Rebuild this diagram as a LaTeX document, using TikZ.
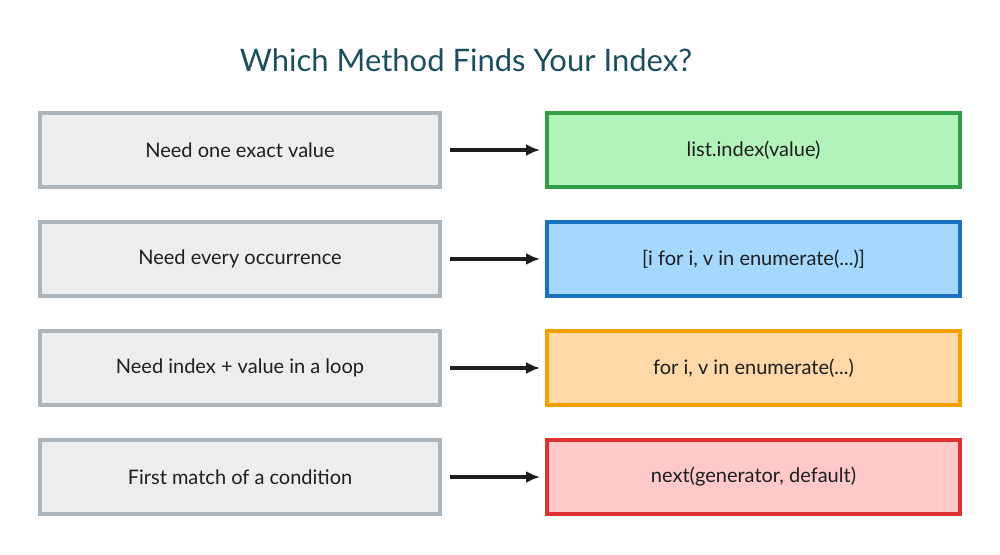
\documentclass[tikz,border=0pt]{standalone}
\usepackage{fontspec}
\setmainfont{Lato}
\usetikzlibrary{positioning}
\usetikzlibrary{arrows.meta}
\definecolor{titleink}{HTML}{1B4F5E}
\definecolor{ink}{HTML}{1E1E1E}
\definecolor{grayfill}{HTML}{ECEDEF}
\definecolor{grayline}{HTML}{ADB5BD}
\definecolor{greenfill}{HTML}{B2F2BB}
\definecolor{greenline}{HTML}{2F9E44}
\definecolor{bluefill}{HTML}{A5D8FF}
\definecolor{blueline}{HTML}{1971C2}
\definecolor{orangefill}{HTML}{FFD8A8}
\definecolor{orangeline}{HTML}{F59F00}
\definecolor{redfill}{HTML}{FFC9C9}
\definecolor{redline}{HTML}{E03131}
\tikzset{
	node distance = 17.5pt and 53.5pt,
	every node/.style={align=center,outer sep=0pt,font=\fontsize{10}{12}\selectfont,text=ink},
	askbox/.style={draw=grayline,fill=grayfill,line width=1.8pt,minimum width=200pt,minimum height=37pt},
	methodbox/.style={line width=1.8pt,minimum width=206.5pt,minimum height=37pt},
	pick/.style={-{Latex[length=7pt,width=6pt]},draw=ink,line width=1.6pt,shorten <=5pt,shorten >=3.5pt}
}
\begin{document}
\begin{tikzpicture}[x=0.5pt,y=-0.5pt]
	\useasboundingbox (0,0) rectangle (1000,555);
	% Title
	\node (title) at (466,60) {\fontsize{15.5}{18}\selectfont\color{titleink}Which Method Finds Your Index?};
	
	\node (need1) [askbox] at (240,150) {Need one exact value};
	\node (need2) [askbox, below = of need1] {Need every occurrence};
	\node (need3) [askbox, below = of need2] {Need index + value in a loop};
	\node (need4) [askbox, below = of need3] {First match of a condition};
	
	\node (m1) [methodbox, draw=greenline, fill=greenfill, right = of need1] {list.index(value)};
	\node (m2) [methodbox, draw=blueline, fill=bluefill, right = of need2] {[i for i, v in enumerate(...)]};
	\node (m3) [methodbox, draw=orangeline, fill=orangefill, right = of need3] {for i, v in enumerate(...)};
	\node (m4) [methodbox, draw=redline, fill=redfill, right = of need4] {next(generator, default)};
	
	\foreach \i in {1,...,4}
		\path[pick] (need\i) -- (m\i);
	
\end{tikzpicture}
\end{document}
